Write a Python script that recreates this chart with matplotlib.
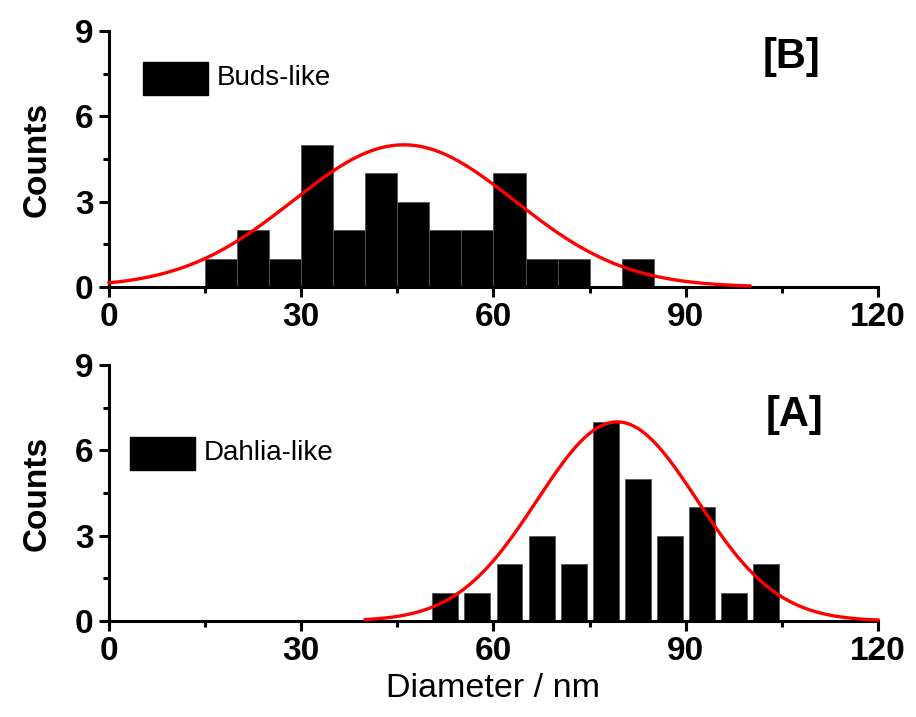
import matplotlib
matplotlib.use("Agg")
import matplotlib.pyplot as plt
import numpy as np
from matplotlib.ticker import MultipleLocator
from matplotlib.patches import Rectangle

plt.rcParams['font.family'] = ['Liberation Sans', 'DejaVu Sans']

# ---------- data ----------
# [B] buds-like: contiguous 5 nm bins starting at 15 nm
buds_edges = [15, 20, 25, 30, 35, 40, 45, 50, 55, 60, 65, 70, 75, 80]
buds_counts = [1, 2, 1, 5, 2, 4, 3, 2, 2, 4, 1, 1, 0, 1]
buds_fit = dict(amp=5.0, mu=46.0, sigma=17.3, xmin=0, xmax=100)

# [A] dahlia-like: 5 nm bins, bars drawn narrower than the bin
dahlia_centers = [52.5, 57.5, 62.5, 67.5, 72.5, 77.5, 82.5, 87.5, 92.5, 97.5, 102.5]
dahlia_counts = [1, 1, 2, 3, 2, 7, 5, 3, 4, 1, 2]
dahlia_fit = dict(amp=7.0, mu=79.3, sigma=12.5, xmin=40, xmax=120)

x_ticks = [0, 30, 60, 90, 120]
y_ticks = [0, 3, 6, 9]


def gauss(fit):
    x = np.linspace(fit['xmin'], fit['xmax'], 400)
    return x, fit['amp'] * np.exp(-(x - fit['mu']) ** 2 / (2 * fit['sigma'] ** 2))


def style_axis(ax):
    ax.set_xlim(0, 120)
    ax.set_ylim(0, 9)
    ax.set_xticks(x_ticks)
    ax.set_yticks(y_ticks)
    ax.xaxis.set_minor_locator(MultipleLocator(15))
    ax.yaxis.set_minor_locator(MultipleLocator(1.5))
    for s in ['top', 'right']:
        ax.spines[s].set_visible(False)
    for s in ['left', 'bottom']:
        ax.spines[s].set_linewidth(2.2)
    ax.tick_params(which='major', direction='out', length=7, width=2.2,
                   labelsize=24, pad=4)
    ax.tick_params(which='minor', direction='out', length=4.5, width=2.2)
    for lab in ax.get_xticklabels() + ax.get_yticklabels():
        lab.set_fontweight('bold')
    ax.set_ylabel('Counts', fontsize=24, fontweight='bold', labelpad=16)
    ax.patch.set_alpha(0)


fig = plt.figure(figsize=(9.16, 7.17), dpi=100)
axB = fig.add_axes([0.119, 0.5997, 0.8395, 0.357])
axA = fig.add_axes([0.119, 0.1339, 0.8395, 0.357])

# ---- panel B ----
axB.bar(buds_edges, buds_counts, width=5, align='edge', color='black',
        edgecolor='#555555', linewidth=0.6, zorder=2)
xb, yb = gauss(buds_fit)
axB.plot(xb, yb, color='red', lw=2.4, zorder=3, clip_on=False)
style_axis(axB)
axB.add_patch(Rectangle((0.0441, 0.75), 0.0845, 0.128, transform=axB.transAxes,
                        color='black', clip_on=False))
axB.text(0.1405, 0.815, 'Buds-like', transform=axB.transAxes, fontsize=20,
         va='center', ha='left')
axB.text(0.888, 0.9, '[B]', transform=axB.transAxes, fontsize=30,
         fontweight='bold', ha='center', va='center')

# ---- panel A ----
axA.bar(dahlia_centers, dahlia_counts, width=4.05, align='center', color='black',
        edgecolor='#555555', linewidth=0.6, zorder=2)
xa, ya = gauss(dahlia_fit)
axA.plot(xa, ya, color='red', lw=2.4, zorder=3, clip_on=False)
style_axis(axA)
axA.add_patch(Rectangle((0.0273, 0.590), 0.0845, 0.129, transform=axA.transAxes,
                        color='black', clip_on=False))
axA.text(0.1235, 0.655, 'Dahlia-like', transform=axA.transAxes, fontsize=20,
         va='center', ha='left')
axA.text(0.892, 0.805, '[A]', transform=axA.transAxes, fontsize=30,
         fontweight='bold', ha='center', va='center')
axA.set_xlabel('Diameter / nm', fontsize=24.5, labelpad=4)

fig.savefig('out.png', dpi=100)
